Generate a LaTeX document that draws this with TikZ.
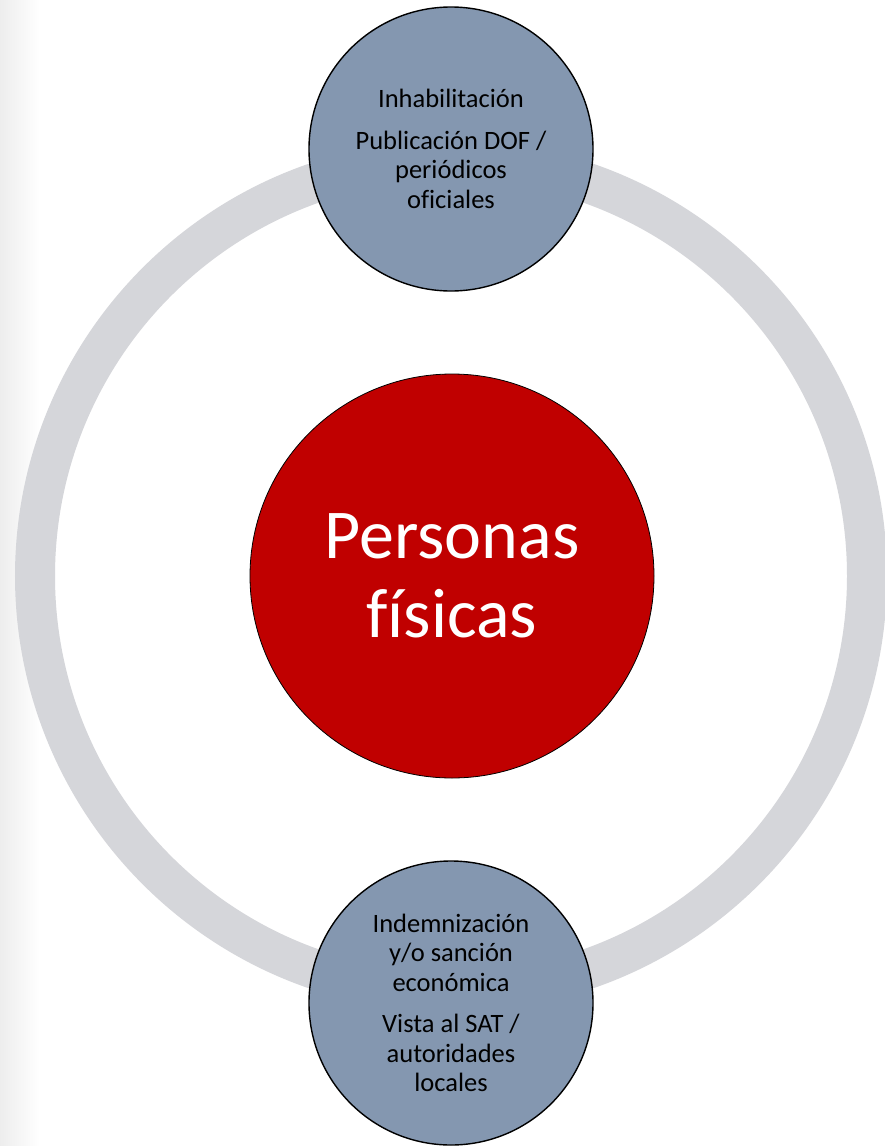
\documentclass[tikz,border=0pt]{standalone}
\usepackage{fontspec}
\setmainfont{Carlito}[Ligatures=NoCommon]
\definecolor{ringgray}{HTML}{D5D6DA}
\definecolor{bluegray}{HTML}{8497B0}
\definecolor{darkred}{HTML}{C00000}
\begin{document}
\begin{tikzpicture}[x=1pt,y=-1pt,
  bluec/.style={circle, draw=black, line width=1.4pt, fill=bluegray, inner sep=0pt,
    minimum size=284pt, align=center, text=black,
    font=\fontsize{26.5}{29.5}\selectfont},
  redc/.style={circle, draw=black, line width=0.8pt, fill=darkred, inner sep=0pt,
    minimum size=404pt, align=center, text=white,
    font=\fontsize{70}{79}\selectfont},
  ringstyle/.style={draw=ringgray, line width=40pt}]
  \useasboundingbox (0,0) rectangle (885,1146);
  \fill[white] (0,0) rectangle (885,1146);
  \shade[left color=black!7, right color=white] (0,0) rectangle (40,1146);
  \draw[ringstyle] (451,576) circle[radius=416pt];
  \node[redc] (center) at (452,576) {Personas\\físicas};
  \node[bluec] (top) at (451,149) {Inhabilitación\\[12pt]Publicación DOF /\\periódicos\\oficiales};
  \node[bluec] (bottom) at (451,1003) {Indemnización\\y/o sanción\\económica\\[12pt]Vista al SAT /\\autoridades\\locales};
\end{tikzpicture}
\end{document}
